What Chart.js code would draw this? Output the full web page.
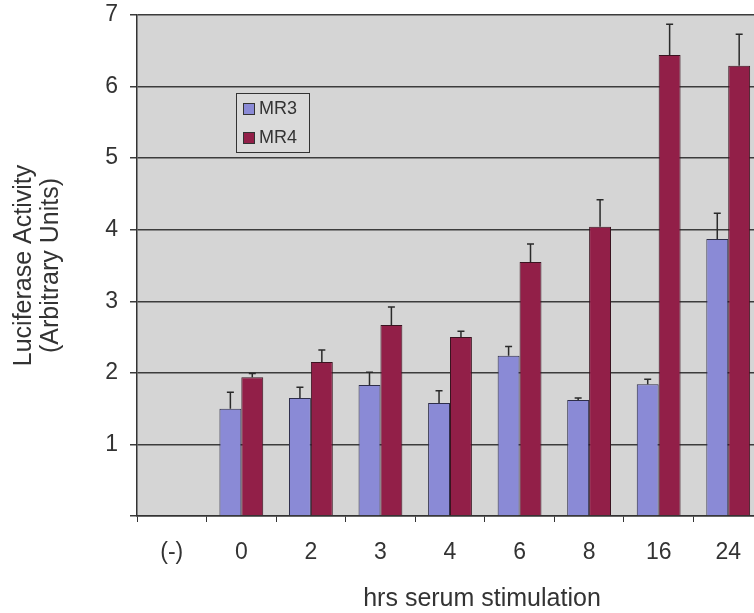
<!DOCTYPE html>
<html>
<head>
<meta charset="utf-8">
<script src="https://cdn.jsdelivr.net/npm/chart.js@4/dist/chart.umd.min.js"></script>
<style>
  html, body { margin: 0; padding: 0; background: #ffffff; overflow: hidden; }
  #wrap { width: 766px; height: 613px; }
</style>
</head>
<body>
<div id="wrap"><canvas id="c" width="766" height="613"></canvas></div>
<script>
// ---- data ----
const categories = ['(-)', '0', '2', '3', '4', '6', '8', '16', '24'];
const seriesNames = ['MR3', 'MR4'];
const mr3Values = [null, 1.50, 1.65, 1.83, 1.58, 2.24, 1.62, 1.84, 3.87];
const mr3Errors = [null, 0.23, 0.15, 0.18, 0.17, 0.13, 0.03, 0.07, 0.36];
const mr4Values = [null, 1.94, 2.15, 2.67, 2.50, 3.55, 4.04, 6.44, 6.29];
const mr4Errors = [null, 0.05, 0.17, 0.25, 0.08, 0.25, 0.38, 0.43, 0.44];
const yTicks = [0, 1, 2, 3, 4, 5, 6, 7];
const yTitle = ['Luciferase Activity', '(Arbitrary Units)'];
const xTitle = 'hrs serum stimulation';

const TEXT = '#333333';
const FONT = 'Arial, "Liberation Sans", Helvetica, sans-serif';

const plotBg = {
  id: 'plotBg',
  beforeDraw(chart) {
    const { ctx, chartArea: a } = chart;
    ctx.save();
    ctx.fillStyle = '#d5d5d5';
    ctx.fillRect(a.left, a.top, a.right - a.left, a.bottom - a.top);
    ctx.restore();
  }
};

const errorBars = {
  id: 'errorBars',
  afterDatasetsDraw(chart) {
    const { ctx } = chart;
    const y = chart.scales.y;
    ctx.save();
    ctx.strokeStyle = '#2a2a2a';
    ctx.lineWidth = 1.5;
    chart.data.datasets.forEach((ds, di) => {
      const meta = chart.getDatasetMeta(di);
      meta.data.forEach((bar, i) => {
        const v = ds.data[i], e = ds.errors[i];
        if (v == null || e == null) return;
        const x = bar.x;
        const y0 = y.getPixelForValue(v);
        const y1 = y.getPixelForValue(v + e);
        ctx.beginPath();
        ctx.moveTo(x, y0);
        ctx.lineTo(x, y1);
        ctx.moveTo(x - 3.5, y1);
        ctx.lineTo(x + 3.5, y1);
        ctx.stroke();
      });
    });
    ctx.restore();
  }
};

const boxLegend = {
  id: 'boxLegend',
  afterDraw(chart) {
    const { ctx } = chart;
    const x = 236, y = 93, w = 73, h = 59;
    ctx.save();
    ctx.fillStyle = '#dadada';
    ctx.fillRect(x, y, w, h);
    ctx.strokeStyle = '#333';
    ctx.lineWidth = 1;
    ctx.strokeRect(x + 0.5, y + 0.5, w, h);
    ctx.font = '18px ' + FONT;
    ctx.textBaseline = 'middle';
    ctx.textAlign = 'left';
    chart.data.datasets.forEach((ds, i) => {
      const cy = 109 + i * 29;
      ctx.fillStyle = ds.backgroundColor;
      ctx.fillRect(243, cy - 6, 12, 12);
      ctx.strokeStyle = '#333';
      ctx.strokeRect(243.5, cy - 5.5, 11, 11);
      ctx.fillStyle = TEXT;
      ctx.fillText(ds.label, 259, cy);
    });
    ctx.restore();
  }
};

const xAxisTitle = {
  id: 'xAxisTitle',
  afterDraw(chart) {
    const { ctx } = chart;
    ctx.save();
    ctx.font = '25px ' + FONT;
    ctx.fillStyle = TEXT;
    ctx.textAlign = 'center';
    ctx.textBaseline = 'middle';
    ctx.fillText(xTitle, 482, 599);
    ctx.restore();
  }
};

new Chart(document.getElementById('c'), {
  type: 'bar',
  data: {
    labels: categories,
    datasets: [
      { label: seriesNames[0], data: mr3Values, errors: mr3Errors,
        backgroundColor: '#8a8ad6', borderColor: '#2e2e4a', borderWidth: 1 },
      { label: seriesNames[1], data: mr4Values, errors: mr4Errors,
        backgroundColor: '#921f48', borderColor: '#3a1420', borderWidth: 1 }
    ]
  },
  options: {
    responsive: false,
    animation: false,
    devicePixelRatio: 1,
    layout: { padding: { top: 15, right: 3, left: 0, bottom: 0 } },
    datasets: { bar: { categoryPercentage: 0.63, barPercentage: 1.0 } },
    plugins: { legend: { display: false }, tooltip: { enabled: false } },
    scales: {
      x: {
        offset: true,
        grid: { display: true, drawOnChartArea: false, offset: true, color: '#333', lineWidth: 1, tickLength: 6 },
        border: { display: true, color: '#333', width: 1.5 },
        ticks: { color: TEXT, font: { family: FONT, size: 23 }, padding: 17, maxRotation: 0, autoSkip: false },
        title: { display: false },
        afterFit(scale) { scale.height = 97; scale.paddingLeft = 0; scale.paddingRight = 0; }
      },
      y: {
        min: 0, max: 7,
        afterBuildTicks(scale) { scale.ticks = yTicks.map(v => ({ value: v })); },
        grid: { color: '#3c3c3c', lineWidth: 1.5, tickLength: 7, drawTicks: true },
        border: { display: true, color: '#333', width: 1.5 },
        ticks: { color: TEXT, font: { family: FONT, size: 23 }, padding: 12,
                 callback: (v) => (v === 0 ? '' : String(v)) },
        title: { display: true, text: yTitle, color: TEXT, font: { family: FONT, size: 25, lineHeight: 1.08 }, padding: { top: 11, bottom: 0 } },
        afterFit(scale) { scale.width = 137; scale.paddingTop = 0; scale.paddingBottom = 0; }
      }
    }
  },
  plugins: [plotBg, errorBars, boxLegend, xAxisTitle]
});
</script>
</body>
</html>
